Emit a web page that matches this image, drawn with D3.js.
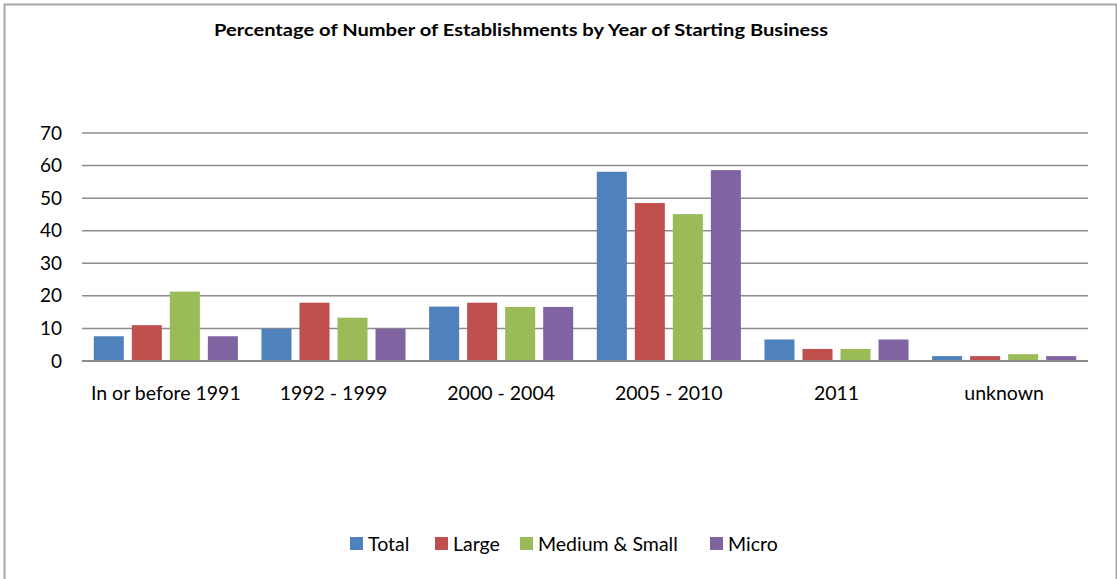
<!DOCTYPE html>
<html>
<head>
<meta charset="utf-8">
<script src="https://cdn.jsdelivr.net/npm/d3@7/dist/d3.min.js"></script>
<style>
  body { margin: 0; background: #fff; }
  text { font-family: Lato, "Open Sans", sans-serif; fill: #000; }
</style>
</head>
<body>
<script>
'use strict'

var categories = ['In or before 1991', '1992 - 1999', '2000 - 2004', '2005 - 2010', '2011', 'unknown']
var seriesNames = ['Total', 'Large', 'Medium & Small', 'Micro']
var total = [7.6, 9.9, 16.7, 58.1, 6.6, 1.5]
var large = [11.0, 17.9, 17.9, 48.5, 3.7, 1.5]
var mediumSmall = [21.3, 13.3, 16.6, 45.1, 3.7, 2.1]
var micro = [7.6, 9.9, 16.6, 58.6, 6.6, 1.5]
var yTicks = [0, 10, 20, 30, 40, 50, 60, 70]
var colors = ['#4f81bd', '#c0504d', '#9bbb59', '#8064a2']

var W = 1117, H = 579
var margin = { left: 82, right: 29, top: 133, bottom: 218 }

var svg = d3.select('body').append('svg')
  .attr('width', W)
  .attr('height', H)

// chart frame
svg.append('rect')
  .attr('x', 4.5).attr('y', 4.5)
  .attr('width', W - 5).attr('height', H)
  .attr('fill', 'none')
  .attr('stroke', '#a6a6a6')
  .attr('stroke-width', 2)

svg.append('text')
  .attr('x', 521).attr('y', 36)
  .attr('text-anchor', 'middle')
  .attr('font-size', 17)
  .attr('font-weight', 'bold')
  .attr('textLength', 614)
  .attr('lengthAdjust', 'spacingAndGlyphs')
  .text('Percentage of Number of Establishments  by Year of Starting Business')

var x0 = d3.scaleBand()
  .domain(categories)
  .range([margin.left, W - margin.right])

var x1 = d3.scaleBand()
  .domain(seriesNames)
  .range([0, x0.bandwidth()])
  .paddingInner(0.21)
  .paddingOuter(0.31)

var y = d3.scaleLinear()
  .domain([0, 70])
  .range([H - margin.bottom, margin.top])

// gridlines
svg.append('g')
  .selectAll('line')
  .data(yTicks.filter(function (t) { return t > 0 }))
  .enter().append('line')
  .attr('x1', margin.left).attr('x2', W - margin.right)
  .attr('y1', function (d) { return y(d) }).attr('y2', function (d) { return y(d) })
  .attr('stroke', '#8c8c8c')
  .attr('stroke-width', 1.5)

// y tick labels
svg.append('g')
  .selectAll('text')
  .data(yTicks)
  .enter().append('text')
  .attr('x', 62)
  .attr('y', function (d) { return y(d) + 6.5 })
  .attr('text-anchor', 'end')
  .attr('font-size', 19)
  .text(function (d) { return d })

var rows = categories.map(function (c, i) {
  return { cat: c, values: [total[i], large[i], mediumSmall[i], micro[i]] }
})

var group = svg.append('g')
  .selectAll('g')
  .data(rows)
  .enter().append('g')
  .attr('transform', function (d) { return 'translate(' + x0(d.cat) + ',0)' })

group.selectAll('rect')
  .data(function (d) { return d.values.map(function (v, i) { return { s: seriesNames[i], v: v, i: i } }) })
  .enter().append('rect')
  .attr('x', function (d) { return x1(d.s) })
  .attr('width', x1.bandwidth())
  .attr('y', function (d) { return y(d.v) })
  .attr('height', function (d) { return y(0) - y(d.v) })
  .attr('fill', function (d) { return colors[d.i] })

// x axis line
svg.append('line')
  .attr('x1', margin.left).attr('x2', W - margin.right)
  .attr('y1', y(0)).attr('y2', y(0))
  .attr('stroke', '#8c8c8c')
  .attr('stroke-width', 2)

svg.append('g')
  .selectAll('text')
  .data(categories)
  .enter().append('text')
  .attr('x', function (d) { return x0(d) + x0.bandwidth() / 2 })
  .attr('y', 400)
  .attr('text-anchor', 'middle')
  .attr('font-size', 19.5)
  .text(function (d) { return d })

// legend
var legendX = [350, 435, 520, 710]
var legend = svg.append('g')
  .selectAll('g')
  .data(seriesNames)
  .enter().append('g')
  .attr('transform', function (d, i) { return 'translate(' + legendX[i] + ',537)' })

legend.append('rect')
  .attr('width', 13).attr('height', 13)
  .attr('fill', function (d, i) { return colors[i] })

legend.append('text')
  .attr('x', 18).attr('y', 14)
  .attr('font-size', 19.5)
  .text(function (d) { return d })
</script>
</body>
</html>
